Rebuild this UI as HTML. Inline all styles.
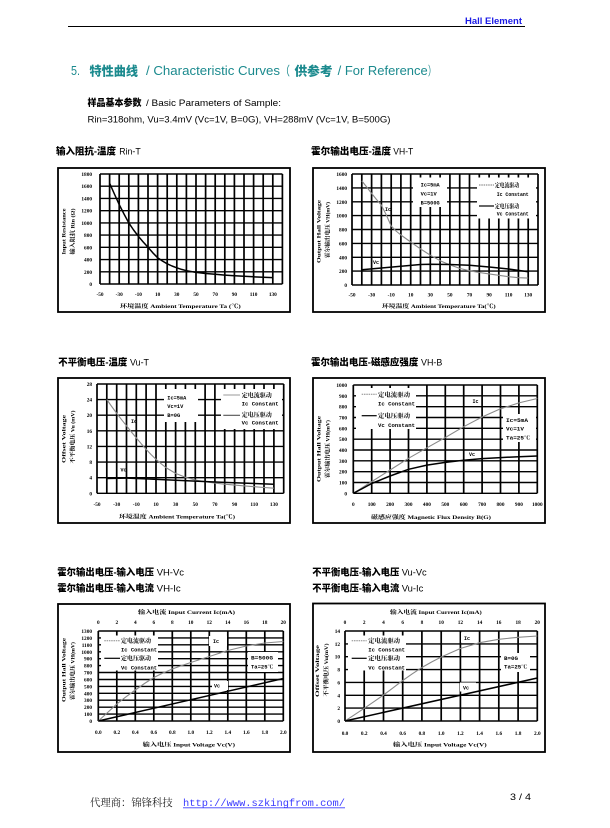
<!DOCTYPE html>
<html><head><meta charset="utf-8">
<style>
html,body{margin:0;padding:0;background:#fff;}
svg{display:block;}
.tk{font-family:"Liberation Serif","Noto Serif CJK SC",serif;font-weight:bold;font-size:5.3px;fill:#000;}
.ax{font-family:"Liberation Serif","Noto Serif CJK SC",serif;font-weight:bold;font-size:5.6px;fill:#000;}
.lg{font-family:"Liberation Mono","Noto Serif CJK SC",monospace;font-weight:bold;font-size:5px;fill:#000;}
.lc{font-family:"Liberation Serif","Noto Serif CJK SC",serif;font-weight:bold;font-size:6.2px;fill:#000;}
.hd{font-family:"Liberation Sans","Noto Sans CJK SC",sans-serif;font-weight:900;font-size:9.5px;fill:#000;}
.hl{font-family:"Liberation Sans",sans-serif;font-size:9.5px;fill:#000;}
.gv{stroke:#000;stroke-width:1.7;fill:none;}
.gh{stroke:#000;stroke-width:1.4;fill:none;}
.fr{stroke:#000;stroke-width:1.8;fill:#fff;}
.ic{stroke:#8a8a8a;stroke-width:1.1;fill:none;stroke-linejoin:round;}
.vc{stroke:#000;stroke-width:1.5;fill:none;stroke-linejoin:round;}
</style></head>
<body>
<svg width="610" height="828" viewBox="0 0 610 828" xmlns="http://www.w3.org/2000/svg">
<rect width="610" height="828" fill="#fff"/>

<!-- header -->
<text x="465" y="24" font-family="Liberation Sans, sans-serif" font-weight="bold" font-size="9.5" fill="#1a1ae6" textLength="57" lengthAdjust="spacingAndGlyphs">Hall  Element</text>
<line x1="68" y1="26.5" x2="525" y2="26.5" stroke="#000" stroke-width="1"/>

<!-- title -->
<g fill="#1b8a8e" font-size="12.5">
<text x="71" y="75" font-family="Liberation Sans, sans-serif" textLength="9" lengthAdjust="spacingAndGlyphs">5.</text>
<text x="89.5" y="75.5" font-family="Liberation Sans, Noto Sans CJK SC, sans-serif" font-weight="900" textLength="48.5" lengthAdjust="spacingAndGlyphs">特性曲线</text>
<text x="146" y="75" font-family="Liberation Sans, sans-serif" textLength="134" lengthAdjust="spacingAndGlyphs">/ Characteristic Curves</text>
<text x="280" y="75.5" font-family="Liberation Sans, Noto Sans CJK SC, sans-serif" textLength="10" lengthAdjust="spacingAndGlyphs">（</text>
<text x="294.5" y="75.5" font-family="Liberation Sans, Noto Sans CJK SC, sans-serif" font-weight="900" textLength="38" lengthAdjust="spacingAndGlyphs">供参考</text>
<text x="337.7" y="75" font-family="Liberation Sans, sans-serif" textLength="90" lengthAdjust="spacingAndGlyphs">/ For Reference</text>
<text x="428" y="75.5" font-family="Liberation Sans, Noto Sans CJK SC, sans-serif" textLength="8" lengthAdjust="spacingAndGlyphs">）</text>
</g>

<text x="87.5" y="106" class="hd" font-size="9" textLength="54" lengthAdjust="spacingAndGlyphs">样品基本参数</text>
<text x="146" y="106" class="hl" font-size="9" textLength="135" lengthAdjust="spacingAndGlyphs">/ Basic Parameters of Sample:</text>
<text x="87.5" y="122.5" class="hl" font-size="9" textLength="303" lengthAdjust="spacingAndGlyphs">Rin=318ohm, Vu=3.4mV (Vc=1V, B=0G), VH=288mV (Vc=1V, B=500G)</text>

<!-- chart headings -->
<text x="56" y="154.5" class="hd" textLength="60" lengthAdjust="spacingAndGlyphs">输入阻抗-温度</text>
<text x="119.3" y="154.5" class="hl" textLength="21.4" lengthAdjust="spacingAndGlyphs">Rin-T</text>
<text x="311" y="154.5" class="hd" textLength="80" lengthAdjust="spacingAndGlyphs">霍尔输出电压-温度</text>
<text x="393.3" y="154.5" class="hl" textLength="20" lengthAdjust="spacingAndGlyphs">VH-T</text>

<text x="58.3" y="365.5" class="hd" textLength="69" lengthAdjust="spacingAndGlyphs">不平衡电压-温度</text>
<text x="130" y="365.5" class="hl" textLength="19" lengthAdjust="spacingAndGlyphs">Vu-T</text>
<text x="311" y="365.5" class="hd" textLength="107.3" lengthAdjust="spacingAndGlyphs">霍尔输出电压-磁感应强度</text>
<text x="421" y="365.5" class="hl" textLength="21.3" lengthAdjust="spacingAndGlyphs">VH-B</text>

<text x="57.3" y="575.5" class="hd" textLength="96.7" lengthAdjust="spacingAndGlyphs">霍尔输出电压-输入电压</text>
<text x="156.7" y="575.5" class="hl" textLength="27.3" lengthAdjust="spacingAndGlyphs">VH-Vc</text>
<text x="57.3" y="591.5" class="hd" textLength="96.7" lengthAdjust="spacingAndGlyphs">霍尔输出电压-输入电流</text>
<text x="156.7" y="591.5" class="hl" textLength="24" lengthAdjust="spacingAndGlyphs">VH-Ic</text>
<text x="312.3" y="575.5" class="hd" textLength="87" lengthAdjust="spacingAndGlyphs">不平衡电压-输入电压</text>
<text x="401.7" y="575.5" class="hl" textLength="25" lengthAdjust="spacingAndGlyphs">Vu-Vc</text>
<text x="312.3" y="591.5" class="hd" textLength="87" lengthAdjust="spacingAndGlyphs">不平衡电压-输入电流</text>
<text x="401.7" y="591.5" class="hl" textLength="21.6" lengthAdjust="spacingAndGlyphs">Vu-Ic</text>

<!-- ================= CHART 1 Rin-T ================= -->
<rect class="fr" x="58" y="168" width="232" height="144"/>
<path class="gv" d="M100 174V284M109.6 174V284M119.2 174V284M128.8 174V284M138.4 174V284M148 174V284M157.6 174V284M167.2 174V284M176.8 174V284M186.4 174V284M196 174V284M205.6 174V284M215.2 174V284M224.8 174V284M234.4 174V284M244 174V284M253.6 174V284M263.2 174V284M272.8 174V284M282.4 174V284"/>
<path class="gh" d="M100 174H282.4M100 186.2H282.4M100 198.4H282.4M100 210.7H282.4M100 222.9H282.4M100 235.1H282.4M100 247.3H282.4M100 259.6H282.4M100 271.8H282.4M100 284H282.4"/>
<polyline class="vc" stroke-width="1.2" points="109.6,183.2 114.4,194 119.2,204.6 124,214 128.8,222.9 133.6,230 138.4,236.3 143.2,242 148,247.3 152.8,252.8 157.6,257.7 162.4,261 167.2,263.8 172,266 176.8,267.8 181.6,269.4 186.4,270.7 196,272.4 205.6,273.5 215.2,274.3 224.8,275.1 234.4,275.7 244,276.3 253.6,276.8 263.2,277.2 272.8,277.6"/>
<g class="tk" text-anchor="end">
<text x="92" y="176">1800</text><text x="92" y="188.2">1600</text><text x="92" y="200.4">1400</text><text x="92" y="212.7">1200</text><text x="92" y="224.9">1000</text><text x="92" y="237.1">800</text><text x="92" y="249.3">600</text><text x="92" y="261.6">400</text><text x="92" y="273.8">200</text><text x="92" y="286">0</text>
</g>
<g class="tk" text-anchor="middle">
<text x="100" y="296">-50</text><text x="119.2" y="296">-30</text><text x="138.4" y="296">-10</text><text x="157.6" y="296">10</text><text x="176.8" y="296">30</text><text x="196" y="296">50</text><text x="215.2" y="296">70</text><text x="234.4" y="296">90</text><text x="253.6" y="296">110</text><text x="272.8" y="296">130</text>
</g>
<text class="ax" x="120" y="308" textLength="120.7" lengthAdjust="spacingAndGlyphs">环境温度 Ambient Temperature Ta (℃)</text>
<text class="ax" transform="translate(65.5,231.5) rotate(-90)" text-anchor="middle" textLength="46" lengthAdjust="spacingAndGlyphs">Input Resistance</text>
<text class="ax" transform="translate(74.5,231.5) rotate(-90)" text-anchor="middle" textLength="46" lengthAdjust="spacingAndGlyphs">输入阻抗 Rin (Ω)</text>

<!-- ================= CHART 2 VH-T ================= -->
<rect class="fr" x="313" y="168" width="232" height="144"/>
<path class="gv" d="M352 174V285M361.8 174V285M371.6 174V285M381.4 174V285M391.2 174V285M400.9 174V285M410.7 174V285M420.5 174V285M430.3 174V285M440.1 174V285M449.9 174V285M459.7 174V285M469.5 174V285M479.3 174V285M489.1 174V285M498.8 174V285M508.6 174V285M518.4 174V285M528.2 174V285M538 174V285"/>
<path class="gh" d="M352 174H538M352 187.9H538M352 201.8H538M352 215.6H538M352 229.5H538M352 243.4H538M352 257.3H538M352 271.1H538M352 285H538"/>
<rect x="413" y="177.5" width="34" height="29.5" fill="#fff"/>
<rect x="477" y="177.5" width="59" height="41" fill="#fff"/>
<polyline class="ic" points="361.8,180.9 366.7,187 371.6,193.4 376.5,199.5 381.4,205.2 386.3,215 391.2,226 396,231 400.9,235 410.7,242 420.5,248.9 430.3,255.2 440.1,260.7 449.9,264.9 459.7,268.4 469.5,270.8 479.3,272.5 489.1,273.9 498.8,275.3 508.6,276.7 518.4,277.7 528.2,278.1"/>
<polyline class="vc" points="361.8,269.7 381.4,268 400.9,266.3 420.5,264.5 430.3,264.2 449.9,264.5 469.5,265.2 489.1,267 508.6,269 528.2,271.8"/>
<g class="tk" text-anchor="end">
<text x="347" y="176">1600</text><text x="347" y="189.9">1400</text><text x="347" y="203.8">1200</text><text x="347" y="217.6">1000</text><text x="347" y="231.5">800</text><text x="347" y="245.4">600</text><text x="347" y="259.3">400</text><text x="347" y="273.1">200</text><text x="347" y="287">0</text>
</g>
<g class="tk" text-anchor="middle">
<text x="352" y="296.5">-50</text><text x="371.6" y="296.5">-30</text><text x="391.2" y="296.5">-10</text><text x="410.7" y="296.5">10</text><text x="430.3" y="296.5">30</text><text x="449.9" y="296.5">50</text><text x="469.5" y="296.5">70</text><text x="489.1" y="296.5">90</text><text x="508.6" y="296.5">110</text><text x="528.2" y="296.5">130</text>
</g>
<text class="ax" x="382" y="308" textLength="113.7" lengthAdjust="spacingAndGlyphs">环境温度 Ambient Temperature Ta(℃)</text>
<text class="ax" transform="translate(320.5,231.5) rotate(-90)" text-anchor="middle" textLength="63" lengthAdjust="spacingAndGlyphs">Output Hall Voltage</text>
<text class="ax" transform="translate(329.3,230) rotate(-90)" text-anchor="middle" textLength="56" lengthAdjust="spacingAndGlyphs">霍尔输出电压 VH(mV)</text>
<g class="lg">
<text x="420.7" y="186.5" textLength="19" lengthAdjust="spacingAndGlyphs">Ic=5mA</text>
<text x="420.7" y="195.5" textLength="16" lengthAdjust="spacingAndGlyphs">Vc=1V</text>
<text x="420.7" y="204.5" textLength="19" lengthAdjust="spacingAndGlyphs">B=500G</text>
<text x="496.7" y="196" textLength="32" lengthAdjust="spacingAndGlyphs">Ic Constant</text>
<text x="496.7" y="215.5" textLength="32" lengthAdjust="spacingAndGlyphs">Vc Constant</text>
</g>
<line x1="479" y1="185" x2="494" y2="185" stroke="#777" stroke-width="1" stroke-dasharray="1.5,0.8"/>
<line x1="479" y1="206" x2="494" y2="206" stroke="#000" stroke-width="1.2"/>
<text class="lc" x="495" y="187.5" textLength="24" lengthAdjust="spacingAndGlyphs">定电流驱动</text>
<text class="lc" x="495" y="208.5" textLength="24" lengthAdjust="spacingAndGlyphs">定电压驱动</text>
<text class="lg" x="385" y="211">Ic</text>
<text class="lg" x="373" y="264">Vc</text>

<!-- ================= CHART 3 Vu-T ================= -->
<rect class="fr" x="58" y="378" width="232" height="145"/>
<path class="gv" d="M97 384V493.3M106.8 384V493.3M116.7 384V493.3M126.5 384V493.3M136.3 384V493.3M146.1 384V493.3M156 384V493.3M165.8 384V493.3M175.6 384V493.3M185.4 384V493.3M195.3 384V493.3M205.1 384V493.3M214.9 384V493.3M224.7 384V493.3M234.6 384V493.3M244.4 384V493.3M254.2 384V493.3M264 384V493.3M273.9 384V493.3M283.7 384V493.3"/>
<path class="gh" d="M97 384H283.7M97 399.6H283.7M97 415.2H283.7M97 430.8H283.7M97 446.4H283.7M97 462.1H283.7M97 477.7H283.7M97 493.3H283.7"/>
<rect x="164" y="389" width="34" height="33" fill="#fff"/>
<rect x="221" y="389" width="61" height="40" fill="#fff"/>
<polyline class="ic" points="106.8,399.6 111.7,406.5 116.7,413.3 121.6,419.7 126.5,425.8 131.4,432 136.3,437.9 141.2,443.7 146.1,449.2 151,454.5 156,459.3 160.9,463.6 165.8,467.5 175.6,473.4 185.4,477.3 195.3,480 205.1,481.7 214.9,483.1 224.7,484.2 234.6,485.1 244.4,485.9 254.2,486.7 264,487.5 273.9,488.2"/>
<polyline class="vc" points="106.8,478.5 126.5,478.1 146.1,478.9 175.6,480.2 214.9,482 244.4,483.1 273.9,484.3"/>
<g class="tk" text-anchor="end">
<text x="92" y="386">28</text><text x="92" y="401.6">24</text><text x="92" y="417.2">20</text><text x="92" y="432.8">16</text><text x="92" y="448.4">12</text><text x="92" y="464.1">8</text><text x="92" y="479.7">4</text><text x="92" y="495.3">0</text>
</g>
<g class="tk" text-anchor="middle">
<text x="97" y="506">-50</text><text x="116.7" y="506">-30</text><text x="136.3" y="506">-10</text><text x="156" y="506">10</text><text x="175.6" y="506">30</text><text x="195.3" y="506">50</text><text x="214.9" y="506">70</text><text x="234.6" y="506">90</text><text x="254.2" y="506">110</text><text x="273.9" y="506">130</text>
</g>
<text class="ax" x="119" y="518.5" textLength="116" lengthAdjust="spacingAndGlyphs">环境温度 Ambient Temperature Ta(℃)</text>
<text class="ax" transform="translate(65.5,439) rotate(-90)" text-anchor="middle" textLength="48" lengthAdjust="spacingAndGlyphs">Offset Voltage</text>
<text class="ax" transform="translate(74.5,437) rotate(-90)" text-anchor="middle" textLength="53" lengthAdjust="spacingAndGlyphs">不平衡电压 Vu (mV)</text>
<g class="lg">
<text x="167.3" y="399.5" textLength="19" lengthAdjust="spacingAndGlyphs">Ic=5mA</text>
<text x="167.3" y="408" textLength="16" lengthAdjust="spacingAndGlyphs">Vc=1V</text>
<text x="167.3" y="417" textLength="13" lengthAdjust="spacingAndGlyphs">B=0G</text>
<text x="241.7" y="405.5" textLength="37" lengthAdjust="spacingAndGlyphs">Ic Constant</text>
<text x="241.7" y="424.5" textLength="37" lengthAdjust="spacingAndGlyphs">Vc Constant</text>
</g>
<line x1="223.3" y1="395" x2="240" y2="395" stroke="#999" stroke-width="1"/>
<line x1="223.3" y1="415.3" x2="240" y2="415.3" stroke="#555" stroke-width="1.2"/>
<text class="lc" x="241.7" y="397.5" textLength="30" lengthAdjust="spacingAndGlyphs">定电流驱动</text>
<text class="lc" x="241.7" y="417" textLength="30" lengthAdjust="spacingAndGlyphs">定电压驱动</text>
<text class="lg" x="131" y="423">Ic</text>
<text class="lg" x="120.5" y="471.5">Vc</text>

<!-- ================= CHART 4 VH-B ================= -->
<rect class="fr" x="313" y="378" width="232" height="145"/>
<path class="gv" d="M353.3 385V493.3M371.7 385V493.3M390.1 385V493.3M408.5 385V493.3M426.9 385V493.3M445.3 385V493.3M463.7 385V493.3M482.1 385V493.3M500.5 385V493.3M518.9 385V493.3M537.3 385V493.3"/>
<path class="gh" d="M353.3 385H537.3M353.3 395.8H537.3M353.3 406.7H537.3M353.3 417.5H537.3M353.3 428.3H537.3M353.3 439.2H537.3M353.3 450H537.3M353.3 460.8H537.3M353.3 471.7H537.3M353.3 482.5H537.3M353.3 493.3H537.3"/>
<rect x="356" y="388" width="60" height="41" fill="#fff"/>
<rect x="503" y="414" width="33" height="28" fill="#fff"/>
<polyline class="ic" points="353.3,493.3 371.7,481.6 390.1,470 408.5,458.3 426.9,447.8 445.3,437.5 463.7,426.7 482.1,417 500.5,408.8 518.9,402.9 537.3,398.5"/>
<polyline class="vc" points="353.3,493.3 362.5,488.5 371.7,483.5 390.1,476 408.5,469.3 426.9,465.1 445.3,462.4 463.7,460.3 482.1,458.6 500.5,457.6 518.9,456.7 537.3,456"/>
<g class="tk" text-anchor="end">
<text x="347" y="387">1000</text><text x="347" y="397.8">900</text><text x="347" y="408.7">800</text><text x="347" y="419.5">700</text><text x="347" y="430.3">600</text><text x="347" y="441.2">500</text><text x="347" y="452">400</text><text x="347" y="462.8">300</text><text x="347" y="473.7">200</text><text x="347" y="484.5">100</text><text x="347" y="495.3">0</text>
</g>
<g class="tk" text-anchor="middle">
<text x="353.3" y="506">0</text><text x="371.7" y="506">100</text><text x="390.1" y="506">200</text><text x="408.5" y="506">300</text><text x="426.9" y="506">400</text><text x="445.3" y="506">500</text><text x="463.7" y="506">600</text><text x="482.1" y="506">700</text><text x="500.5" y="506">800</text><text x="518.9" y="506">900</text><text x="537.3" y="506">1000</text>
</g>
<text class="ax" x="371" y="519" textLength="120" lengthAdjust="spacingAndGlyphs">磁感应强度 Magnetic Flux Density B(G)</text>
<text class="ax" transform="translate(320.5,449) rotate(-90)" text-anchor="middle" textLength="66" lengthAdjust="spacingAndGlyphs">Output Hall Voltage</text>
<text class="ax" transform="translate(329.3,449) rotate(-90)" text-anchor="middle" textLength="58" lengthAdjust="spacingAndGlyphs">霍尔输出电压 VH(mV)</text>
<line x1="361.7" y1="394.3" x2="376.7" y2="394.3" stroke="#888" stroke-width="1" stroke-dasharray="1.5,0.8"/>
<line x1="361.7" y1="415.7" x2="376.7" y2="415.7" stroke="#000" stroke-width="1.2"/>
<text class="lc" x="378" y="396.8" textLength="32" lengthAdjust="spacingAndGlyphs">定电流驱动</text>
<text class="lc" x="378" y="418" textLength="32" lengthAdjust="spacingAndGlyphs">定电压驱动</text>
<g class="lg">
<text x="378" y="405.5" textLength="37" lengthAdjust="spacingAndGlyphs">Ic Constant</text>
<text x="378" y="427" textLength="37" lengthAdjust="spacingAndGlyphs">Vc Constant</text>
<text x="506" y="422" textLength="22" lengthAdjust="spacingAndGlyphs">Ic=5mA</text>
<text x="506" y="430.5" textLength="18" lengthAdjust="spacingAndGlyphs">Vc=1V</text>
<text x="506" y="439.5" textLength="24" lengthAdjust="spacingAndGlyphs">Ta=25℃</text>
<text x="472.5" y="403">Ic</text>
<text x="469" y="456">Vc</text>
</g>

<!-- ================= CHART 5 VH-Vc / VH-Ic ================= -->
<rect class="fr" x="58" y="604" width="232" height="148"/>
<path class="gv" d="M98.3 631V721M116.8 631V721M135.3 631V721M153.8 631V721M172.3 631V721M190.8 631V721M209.3 631V721M227.8 631V721M246.3 631V721M264.8 631V721M283.3 631V721"/>
<path class="gh" d="M98.3 631H283.3M98.3 637.9H283.3M98.3 644.8H283.3M98.3 651.8H283.3M98.3 658.7H283.3M98.3 665.6H283.3M98.3 672.5H283.3M98.3 679.5H283.3M98.3 686.4H283.3M98.3 693.3H283.3M98.3 700.2H283.3M98.3 707.2H283.3M98.3 714.1H283.3M98.3 721H283.3"/>
<rect x="101" y="635.5" width="57" height="35" fill="#fff"/>
<rect x="209" y="636" width="18" height="10" fill="#fff"/>
<rect x="248" y="652" width="30" height="20" fill="#fff"/>
<rect x="212" y="681" width="16" height="9" fill="#fff"/>
<polyline class="ic" points="98.3,721 107.6,712.5 116.8,704 126,696.8 135.3,690 144.5,683.5 153.8,677.5 163,673 172.3,669 181.5,665.6 190.8,662.5 209.3,656.5 227.8,650.5 246.3,646 264.8,643 283.3,641.5"/>
<polyline class="vc" stroke-width="1.8" points="98.3,721 283.3,678.5"/>
<g class="tk" text-anchor="end">
<text x="92" y="633">1300</text><text x="92" y="639.9">1200</text><text x="92" y="646.8">1100</text><text x="92" y="653.8">1000</text><text x="92" y="660.7">900</text><text x="92" y="667.6">800</text><text x="92" y="674.5">700</text><text x="92" y="681.5">600</text><text x="92" y="688.4">500</text><text x="92" y="695.3">400</text><text x="92" y="702.2">300</text><text x="92" y="709.2">200</text><text x="92" y="716.1">100</text><text x="92" y="723">0</text>
</g>
<g class="tk" text-anchor="middle">
<text x="98.3" y="734">0.0</text><text x="116.8" y="734">0.2</text><text x="135.3" y="734">0.4</text><text x="153.8" y="734">0.6</text><text x="172.3" y="734">0.8</text><text x="190.8" y="734">1.0</text><text x="209.3" y="734">1.2</text><text x="227.8" y="734">1.4</text><text x="246.3" y="734">1.6</text><text x="264.8" y="734">1.8</text><text x="283.3" y="734">2.0</text>
<text x="98.3" y="624">0</text><text x="116.8" y="624">2</text><text x="135.3" y="624">4</text><text x="153.8" y="624">6</text><text x="172.3" y="624">8</text><text x="190.8" y="624">10</text><text x="209.3" y="624">12</text><text x="227.8" y="624">14</text><text x="246.3" y="624">16</text><text x="264.8" y="624">18</text><text x="283.3" y="624">20</text>
</g>
<text class="ax" x="138" y="614" textLength="97" lengthAdjust="spacingAndGlyphs">输入电流 Input Current Ic(mA)</text>
<text class="ax" x="142.7" y="746.5" textLength="92.3" lengthAdjust="spacingAndGlyphs">输入电压 Input Voltage Vc(V)</text>
<text class="ax" transform="translate(65.5,670) rotate(-90)" text-anchor="middle" textLength="64" lengthAdjust="spacingAndGlyphs">Output Hall Voltage</text>
<text class="ax" transform="translate(74.5,671) rotate(-90)" text-anchor="middle" textLength="58" lengthAdjust="spacingAndGlyphs">霍尔输出电压 VH(mV)</text>
<line x1="104.3" y1="640.7" x2="120" y2="640.7" stroke="#888" stroke-width="1" stroke-dasharray="1.5,0.8"/>
<line x1="104.3" y1="658.3" x2="120" y2="658.3" stroke="#000" stroke-width="1.2"/>
<text class="lc" x="121" y="643" textLength="30" lengthAdjust="spacingAndGlyphs">定电流驱动</text>
<text class="lc" x="121" y="660.7" textLength="30" lengthAdjust="spacingAndGlyphs">定电压驱动</text>
<g class="lg">
<text x="121" y="651.5" textLength="36" lengthAdjust="spacingAndGlyphs">Ic Constant</text>
<text x="121" y="669.5" textLength="36" lengthAdjust="spacingAndGlyphs">Vc Constant</text>
<text x="213" y="643">Ic</text>
<text x="251" y="659.5" textLength="22" lengthAdjust="spacingAndGlyphs">B=500G</text>
<text x="251" y="668.5" textLength="22" lengthAdjust="spacingAndGlyphs">Ta=25℃</text>
<text x="214" y="687.5">Vc</text>
</g>

<!-- ================= CHART 6 Vu-Vc / Vu-Ic ================= -->
<rect class="fr" x="313" y="603.5" width="232" height="148.5"/>
<path class="gv" d="M345 631V721M364.2 631V721M383.5 631V721M402.7 631V721M421.9 631V721M441.2 631V721M460.4 631V721M479.6 631V721M498.8 631V721M518.1 631V721M537.3 631V721"/>
<path class="gh" d="M345 631H537.3M345 643.9H537.3M345 656.7H537.3M345 669.6H537.3M345 682.4H537.3M345 695.3H537.3M345 708.1H537.3M345 721H537.3"/>
<rect x="348" y="635.5" width="58" height="35" fill="#fff"/>
<rect x="461" y="632.5" width="17" height="10" fill="#fff"/>
<rect x="501" y="653" width="29" height="19" fill="#fff"/>
<rect x="460" y="682.5" width="16" height="9" fill="#fff"/>
<polyline class="ic" points="345,721 354.6,714.7 364.2,708.3 373.9,701.7 383.5,695 393.1,687.8 402.7,680.5 412.3,673.8 421.9,667.5 431.6,662 441.2,657 460.4,648.5 479.6,642.7 498.8,639.3 518.1,637.3 537.3,636"/>
<polyline class="vc" stroke-width="1.8" points="345,721 537.3,678"/>
<g class="tk" text-anchor="end">
<text x="340" y="633">14</text><text x="340" y="645.9">12</text><text x="340" y="658.7">10</text><text x="340" y="671.6">8</text><text x="340" y="684.4">6</text><text x="340" y="697.3">4</text><text x="340" y="710.1">2</text><text x="340" y="723">0</text>
</g>
<g class="tk" text-anchor="middle">
<text x="345" y="735">0.0</text><text x="364.2" y="735">0.2</text><text x="383.5" y="735">0.4</text><text x="402.7" y="735">0.6</text><text x="421.9" y="735">0.8</text><text x="441.2" y="735">1.0</text><text x="460.4" y="735">1.2</text><text x="479.6" y="735">1.4</text><text x="498.8" y="735">1.6</text><text x="518.1" y="735">1.8</text><text x="537.3" y="735">2.0</text>
<text x="345" y="624">0</text><text x="364.2" y="624">2</text><text x="383.5" y="624">4</text><text x="402.7" y="624">6</text><text x="421.9" y="624">8</text><text x="441.2" y="624">10</text><text x="460.4" y="624">12</text><text x="479.6" y="624">14</text><text x="498.8" y="624">16</text><text x="518.1" y="624">18</text><text x="537.3" y="624">20</text>
</g>
<text class="ax" x="390" y="614" textLength="91.7" lengthAdjust="spacingAndGlyphs">输入电流 Input Current Ic(mA)</text>
<text class="ax" x="393" y="746.5" textLength="93.7" lengthAdjust="spacingAndGlyphs">输入电压 Input Voltage Vc(V)</text>
<text class="ax" transform="translate(319,671) rotate(-90)" text-anchor="middle" textLength="52" lengthAdjust="spacingAndGlyphs">Offset Voltage</text>
<text class="ax" transform="translate(328,670) rotate(-90)" text-anchor="middle" textLength="53" lengthAdjust="spacingAndGlyphs">不平衡电压 Vu(mV)</text>
<line x1="351.7" y1="640.7" x2="366.7" y2="640.7" stroke="#888" stroke-width="1" stroke-dasharray="1.5,0.8"/>
<line x1="351.7" y1="658.3" x2="366.7" y2="658.3" stroke="#000" stroke-width="1.2"/>
<text class="lc" x="368.3" y="643" textLength="31.7" lengthAdjust="spacingAndGlyphs">定电流驱动</text>
<text class="lc" x="368.3" y="660.7" textLength="31.7" lengthAdjust="spacingAndGlyphs">定电压驱动</text>
<g class="lg">
<text x="368.3" y="651.5" textLength="36.7" lengthAdjust="spacingAndGlyphs">Ic Constant</text>
<text x="368.3" y="669.5" textLength="36.7" lengthAdjust="spacingAndGlyphs">Vc Constant</text>
<text x="464" y="640">Ic</text>
<text x="504" y="660" textLength="14" lengthAdjust="spacingAndGlyphs">B=0G</text>
<text x="504" y="668.5" textLength="23" lengthAdjust="spacingAndGlyphs">Ta=25℃</text>
<text x="463" y="689.5">Vc</text>
</g>

<!-- footer -->
<text x="90" y="806" font-family="Liberation Serif, Noto Serif CJK SC, serif" font-size="10.5" fill="#222" textLength="82.7" lengthAdjust="spacingAndGlyphs">代理商：锦锋科技</text>
<text x="183" y="806" font-family="Liberation Mono, monospace" font-size="10.5" fill="#3a3aff" textLength="162" lengthAdjust="spacingAndGlyphs">http://www.szkingfrom.com/</text>
<line x1="183" y1="807.8" x2="345" y2="807.8" stroke="#3a3aff" stroke-width="0.9"/>
<text x="510" y="800" font-family="Liberation Sans, sans-serif" font-size="9" fill="#000" textLength="21" lengthAdjust="spacingAndGlyphs">3 / 4</text>
</svg>
</body></html>
